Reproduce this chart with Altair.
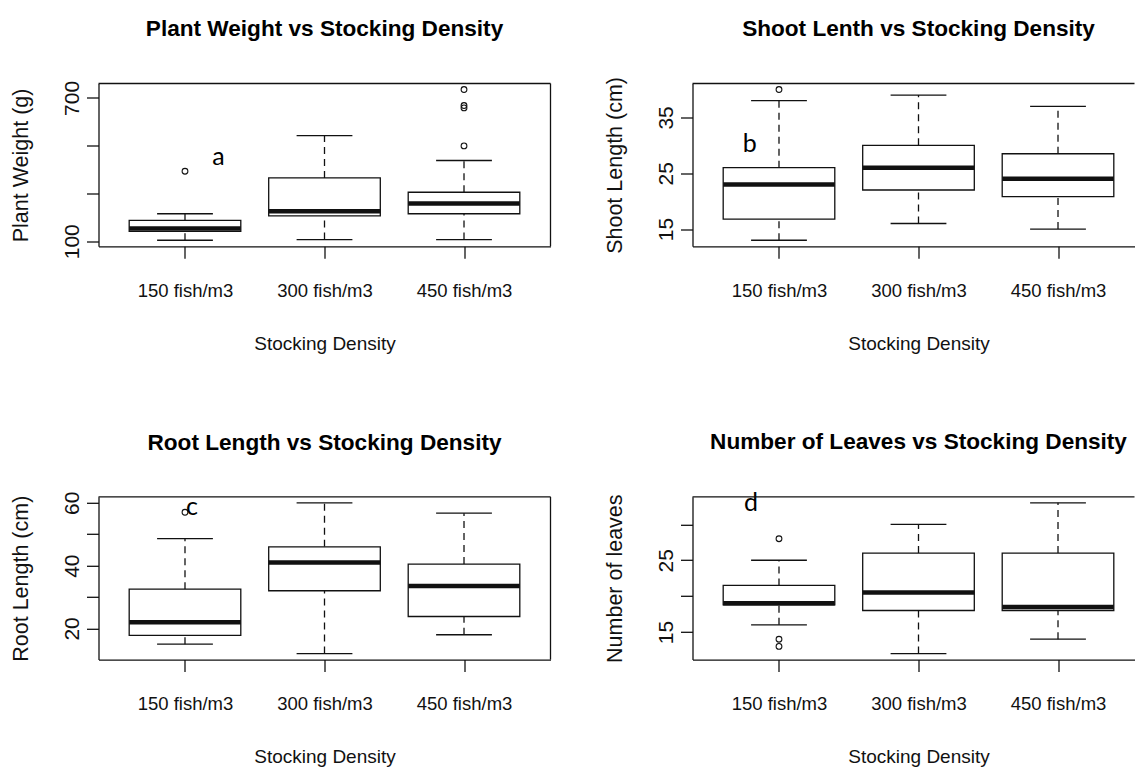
import json
import altair as alt
import pandas as pd

# Group order along the x axis
groups = ["150 fish/m3", "300 fish/m3", "450 fish/m3"]
positions = [1, 2, 3]

# Plant weight (g): whisker ends, quartiles, medians and outliers
weight_low = [104, 107, 107]
weight_q1 = [141, 206, 215]
weight_med = [153, 225, 258]
weight_q3 = [187, 365, 305]
weight_high = [215, 542, 438]
weight_out_pos = [1, 3, 3, 3, 3]
weight_out_val = [393, 499, 658, 668, 735]
weight_ticks = [100, 200, 300, 400, 500, 600, 700]
weight_labels = [100, 400, 700]

# Shoot length (cm)
shoot_low = [13, 16, 15]
shoot_q1 = [16.8, 22, 20.8]
shoot_med = [23, 26, 24]
shoot_q3 = [26, 30, 28.5]
shoot_high = [38, 39, 37]
shoot_out_pos = [1]
shoot_out_val = [40]
shoot_ticks = [15, 20, 25, 30, 35, 40]
shoot_labels = [15, 25, 35]

# Root length (cm)
root_low = [15, 12, 18]
root_q1 = [17.8, 32, 23.8]
root_med = [22, 41, 33.5]
root_q3 = [32.5, 46, 40.5]
root_high = [48.6, 60, 56.7]
root_out_pos = [1]
root_out_val = [57]
root_ticks = [20, 30, 40, 50, 60]
root_labels = [20, 40, 60]

# Number of leaves
leaves_low = [16, 12, 14]
leaves_q1 = [18.8, 18, 18]
leaves_med = [19, 20.5, 18.5]
leaves_q3 = [21.5, 26, 26]
leaves_high = [25, 30, 33]
leaves_out_pos = [1, 1, 1]
leaves_out_val = [28, 14, 13]
leaves_ticks = [15, 20, 25, 30]
leaves_labels = [15, 25]

# Panel letters and where they sit (data coordinates)
letters = ["a", "b", "c", "d"]
letter_x = [1.24, 0.79, 1.05, 0.80]
letter_y = [451, 30.3, 58.7, 33.0]

SANS = "Liberation Sans, Arial, sans-serif"
INK = "#111111"
LW = 1.3

PANEL_W = 452
UNIT = PANEL_W / 3.24  # pixels per group slot
PANEL_H = 162.8
RIGHT_W = 442

x_label_expr = " : ".join(
    f"datum.value == {p} ? {json.dumps(g)}" for p, g in zip(positions, groups)
) + " : ''"


def panel(title, ytitle, low, q1, med, q3, high, out_pos, out_val, ticks, labels,
          letter, lx, ly, width, title_offset, title_dx, right_frame):
    height = PANEL_H
    xmin = 0.38
    xmax = xmin + width / UNIT
    lo = min(low + out_val)
    hi = max(high + out_val)
    pad = 0.04 * (hi - lo)
    ydom = [lo - pad, hi + pad]

    stats = pd.DataFrame({
        "pos": positions, "low": low, "q1": q1, "med": med, "q3": q3, "high": high,
    })
    stats["left"] = stats["pos"] - 0.4
    stats["right"] = stats["pos"] + 0.4
    stats["capl"] = stats["pos"] - 0.2
    stats["capr"] = stats["pos"] + 0.2
    outs = pd.DataFrame({"pos": out_pos, "val": out_val})
    tag = pd.DataFrame({"x": [lx], "y": [ly], "t": [letter]})

    xscale = alt.Scale(domain=[xmin, xmax], nice=False, zero=False)
    yscale = alt.Scale(domain=ydom, nice=False, zero=False)

    xaxis = alt.Axis(
        values=positions, labelExpr=x_label_expr, title="Stocking Density",
        grid=False, tickSize=12, tickWidth=LW, tickColor=INK,
        domainColor=INK, domainWidth=LW,
        labelFont=SANS, labelFontSize=18.5, labelColor=INK,
        labelBaseline="alphabetic", labelPadding=38,
        labelFlush=False, labelOverlap=False, labelBound=False,
        titleFont=SANS, titleFontSize=19, titleFontWeight="normal", titleColor=INK,
        titleBaseline="alphabetic", titleX=PANEL_W / 2, titleY=103, titleAlign="center",
    )
    yaxis = alt.Axis(
        values=ticks,
        labelExpr=f"indexof({json.dumps(labels)}, datum.value) >= 0 ? datum.label : ''",
        title=ytitle, grid=False, tickSize=12, tickWidth=LW, tickColor=INK,
        domainColor=INK, domainWidth=LW,
        labelFont=SANS, labelFontSize=21, labelColor=INK, labelAngle=270,
        labelAlign="center", labelBaseline="alphabetic", labelPadding=8,
        labelFlush=False, labelOverlap=False, labelBound=False,
        titleFont=SANS, titleFontSize=21.5, titleFontWeight="normal", titleColor=INK,
        titleAngle=270, titleAlign="center", titleBaseline="alphabetic",
        titleX=-71, titleY=height / 2,
    )

    base = alt.Chart(stats)
    x_pos = alt.X("pos:Q", scale=xscale, axis=xaxis)
    whisk_lo = base.mark_rule(color=INK, strokeWidth=LW, strokeDash=[7, 5]).encode(
        x=x_pos, y=alt.Y("low:Q", scale=yscale, axis=yaxis), y2="q1:Q")
    whisk_hi = base.mark_rule(color=INK, strokeWidth=LW, strokeDash=[7, 5]).encode(
        x="pos:Q", y="q3:Q", y2="high:Q")
    cap_lo = base.mark_rule(color=INK, strokeWidth=LW).encode(x="capl:Q", x2="capr:Q", y="low:Q")
    cap_hi = base.mark_rule(color=INK, strokeWidth=LW).encode(x="capl:Q", x2="capr:Q", y="high:Q")
    box = base.mark_rect(fill="white", stroke=INK, strokeWidth=LW).encode(
        x="left:Q", x2="right:Q", y="q1:Q", y2="q3:Q")
    median = base.mark_rule(color=INK, strokeWidth=4.5).encode(
        x="left:Q", x2="right:Q", y="med:Q")
    points = alt.Chart(outs).mark_point(
        shape="circle", filled=False, color=INK, size=33, strokeWidth=1.1, opacity=1
    ).encode(x="pos:Q", y="val:Q")
    letter_mark = alt.Chart(tag).mark_text(
        font="Lato, Open Sans, sans-serif", fontSize=25, color="black", baseline="middle"
    ).encode(x="x:Q", y="y:Q", text="t:N")

    one = alt.Data(values=[{}])
    frame_top = alt.Chart(one).mark_rule(color=INK, strokeWidth=LW).encode(
        x=alt.value(0), x2=alt.value(width), y=alt.value(0))
    layers = [whisk_lo, whisk_hi, cap_lo, cap_hi, box, median, points, letter_mark, frame_top]
    if right_frame:
        layers.append(alt.Chart(one).mark_rule(color=INK, strokeWidth=LW).encode(
            x=alt.value(width), y=alt.value(0), y2=alt.value(height)))

    return alt.layer(*layers).properties(
        width=width, height=height,
        title=alt.TitleParams(
            title, font=SANS, fontSize=22.6, fontWeight="bold", color="black",
            anchor="middle", frame="group", baseline="alphabetic",
            offset=title_offset, dx=title_dx,
        ),
    )


p1 = panel("Plant Weight vs Stocking Density", "Plant Weight (g)",
           weight_low, weight_q1, weight_med, weight_q3, weight_high,
           weight_out_pos, weight_out_val, weight_ticks, weight_labels,
           letters[0], letter_x[0], letter_y[0], PANEL_W, 21.3, 0, True)
p2 = panel("Shoot Lenth vs Stocking Density", "Shoot Length (cm)",
           shoot_low, shoot_q1, shoot_med, shoot_q3, shoot_high,
           shoot_out_pos, shoot_out_val, shoot_ticks, shoot_labels,
           letters[1], letter_x[1], letter_y[1], RIGHT_W, 18.3, (PANEL_W - RIGHT_W) / 2, False)
p3 = panel("Root Length vs Stocking Density", "Root Length (cm)",
           root_low, root_q1, root_med, root_q3, root_high,
           root_out_pos, root_out_val, root_ticks, root_labels,
           letters[2], letter_x[2], letter_y[2], PANEL_W, 18.5, 0, True)
p4 = panel("Number of Leaves vs Stocking Density", "Number of leaves",
           leaves_low, leaves_q1, leaves_med, leaves_q3, leaves_high,
           leaves_out_pos, leaves_out_val, leaves_ticks, leaves_labels,
           letters[3], letter_x[3], letter_y[3], RIGHT_W, 19.5, (PANEL_W - RIGHT_W) / 2, False)

chart = alt.concat(
    p1, p2, p3, p4, columns=2,
    spacing={"row": 250.3, "column": 142}, bounds="flush",
).properties(
    padding={"left": 9.5, "top": 17.5, "right": 0, "bottom": 0},
    background="white",
).configure_view(strokeWidth=0)

chart.save("out.html", embed_options={"renderer": "svg", "actions": False})
